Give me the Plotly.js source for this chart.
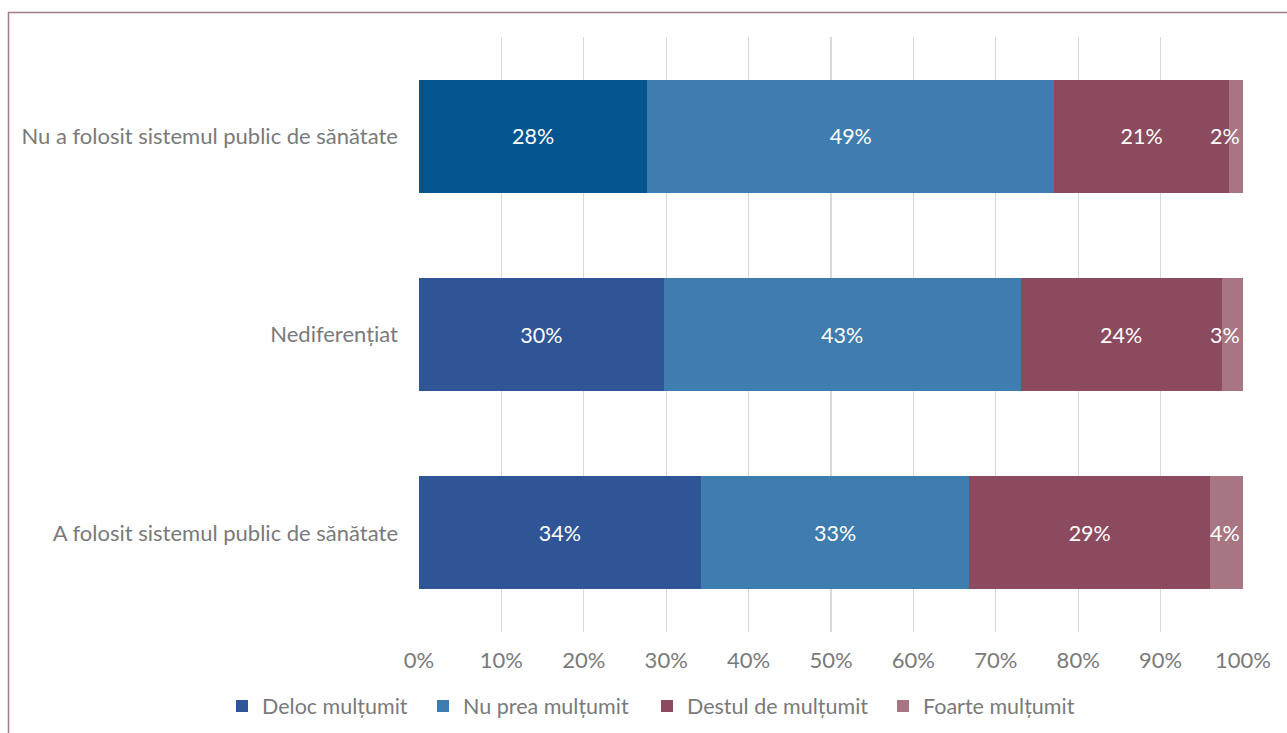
<!DOCTYPE html>
<html>
<head>
<meta charset="utf-8">
<script src="https://cdn.plot.ly/plotly-3.0.1.min.js"></script>
<style>
html,body{margin:0;padding:0;background:#fff;}
#chart{width:1287px;height:733px;}
</style>
</head>
<body>
<div id="chart"></div>
<script>
// Categories, bottom to top
const categories = [
  "A folosit sistemul public de sănătate",
  "Nediferențiat",
  "Nu a folosit sistemul public de sănătate"
];
const seriesNames = ["Deloc mulțumit", "Nu prea mulțumit", "Destul de mulțumit", "Foarte mulțumit"];
const delocMultumit = [34.2, 29.7, 27.7];
const nuPreaMultumit = [32.6, 43.3, 49.4];
const destulDeMultumit = [29.2, 24.4, 21.2];
const foarteMultumit = [4.0, 2.6, 1.7];
const xTickValues = [0, 10, 20, 30, 40, 50, 60, 70, 80, 90, 100];
const xTickLabels = ["0%", "10%", "20%", "30%", "40%", "50%", "60%", "70%", "80%", "90%", "100%"];

const font = "Lato, 'Open Sans', sans-serif";
const gray = "#7a7a7a";
const fs = 21.5;

const plotL = 419, plotR = 1243, plotT = 37, plotB = 632;
const W = 1287, H = 733;
const pw = plotR - plotL, ph = plotB - plotT;
function px2x(p) { return (p - plotL) / pw; }
function py2y(p) { return (plotB - p) / ph; }

const legendNames = ["legend", "legend2", "legend3", "legend4"];
const legendLeft = [222, 423, 647, 883];

function mk(vals, idx, color, showText) {
  return {
    type: "bar", orientation: "h",
    x: vals, y: categories, name: seriesNames[idx],
    legend: legendNames[idx],
    marker: {color: color, line: {width: 0}},
    texttemplate: "%{x:.0f}%",
    textposition: showText ? "inside" : "none",
    insidetextanchor: "middle",
    textangle: 0,
    constraintext: "none",
    textfont: {family: font, size: fs, color: "#ffffff"},
    hoverinfo: "skip"
  };
}

const traces = [
  mk(delocMultumit, 0, ["#2F5597", "#2F5597", "#02558F"], true),
  mk(nuPreaMultumit, 1, "#3F7CAF", true),
  mk(destulDeMultumit, 2, "#8B4A5E", true),
  mk(foarteMultumit, 3, "#A87683", false)
];

// Labels for the thin last segment, anchored to the end of each bar
const annotations = categories.map((c, i) => ({
  x: Math.min(100, Math.round((delocMultumit[i] + nuPreaMultumit[i] + destulDeMultumit[i] + foarteMultumit[i]) * 100) / 100),
  y: c, xref: "x", yref: "y",
  text: Math.round(foarteMultumit[i]) + "%",
  xanchor: "right", yanchor: "middle", xshift: -1,
  showarrow: false,
  font: {family: font, size: fs, color: "#ffffff"}
}));

function legendObj(i) {
  return {
    orientation: "h", x: px2x(legendLeft[i]), xanchor: "left", y: py2y(706), yanchor: "middle",
    font: {family: font, size: fs, color: gray},
    itemwidth: 30, bgcolor: "rgba(0,0,0,0)", borderwidth: 0
  };
}

const layout = {
  width: W, height: H,
  margin: {l: plotL, r: W - plotR, t: plotT, b: H - plotB, pad: 0, autoexpand: false},
  paper_bgcolor: "#ffffff", plot_bgcolor: "#ffffff",
  barmode: "stack", bargap: 0.43,
  font: {family: font, color: gray, size: fs},
  showlegend: true,
  legend: legendObj(0), legend2: legendObj(1), legend3: legendObj(2), legend4: legendObj(3),
  annotations: annotations,
  xaxis: {
    range: [0, 100], tickvals: xTickValues, ticktext: xTickLabels,
    showgrid: true, gridcolor: "#d9d9d9", gridwidth: 1.3,
    zeroline: false, showline: false, ticks: "",
    tickfont: {family: font, size: 22, color: gray},
    ticklabelstandoff: 13, fixedrange: true
  },
  yaxis: {
    type: "category",
    showgrid: false, zeroline: false, showline: false, ticks: "",
    tickfont: {family: font, size: 22, color: gray},
    ticklabelstandoff: 20, fixedrange: true
  },
  shapes: [{
    type: "rect", xref: "paper", yref: "paper",
    x0: px2x(8.5), x1: px2x(1400), y0: py2y(900), y1: py2y(12.5),
    line: {color: "#A57A8C", width: 1.5}, fillcolor: "rgba(0,0,0,0)", layer: "below"
  }]
};

Plotly.newPlot("chart", traces, layout, {displayModeBar: false, staticPlot: true});
</script>
</body>
</html>
